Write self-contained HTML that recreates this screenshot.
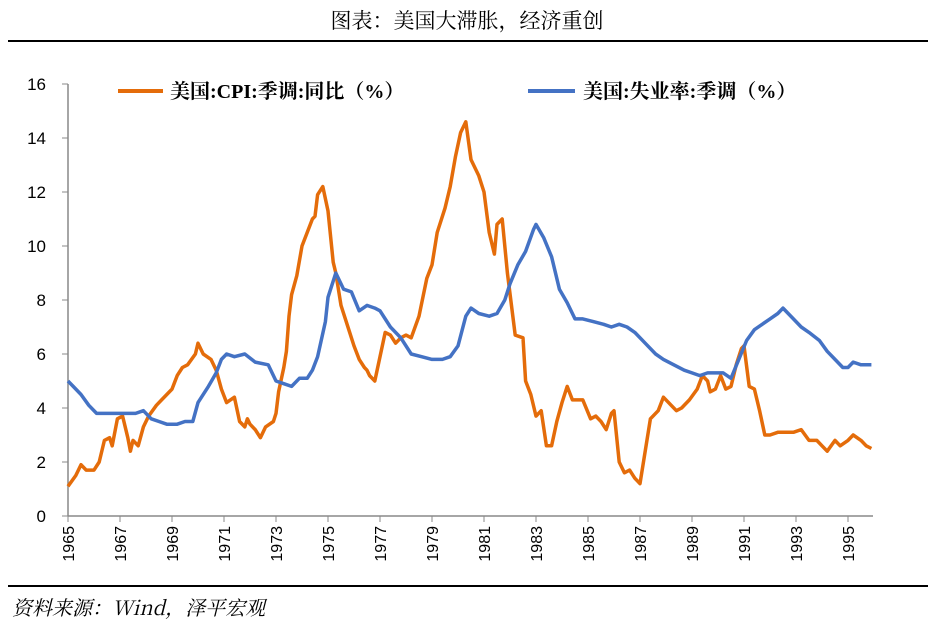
<!DOCTYPE html>
<html><head><meta charset="utf-8"><style>
body{margin:0;background:#fff;}
svg{display:block;font-family:"Liberation Sans","Noto Sans CJK SC",sans-serif;}
</style></head><body>
<svg width="935" height="631">
<text x="467" y="28" text-anchor="middle" font-size="21" font-family="'Noto Serif CJK SC','Noto Sans CJK SC',serif">图表：美国大滞胀，经济重创</text>
<line x1="8" y1="41" x2="928" y2="41" stroke="#000" stroke-width="2"/>
<line x1="8" y1="586" x2="928" y2="586" stroke="#000" stroke-width="2"/>
<text x="12" y="615" font-size="20" font-style="italic" font-family="'Noto Serif CJK SC','Noto Sans CJK SC',serif">资料来源：Wind，泽平宏观</text>
<g id="axes"></g>
<g id="series"></g>
<g>
<line x1="118" y1="91" x2="163" y2="91" stroke="#E46C0A" stroke-width="4"/>
<text x="170" y="98" font-size="20" font-weight="bold" font-family="'Liberation Serif','Noto Serif CJK SC',serif">美国:CPI:季调:同比（%）</text>
<line x1="528" y1="91" x2="575" y2="91" stroke="#4472C4" stroke-width="4"/>
<text x="583" y="98" font-size="20" font-weight="bold" font-family="'Liberation Serif','Noto Serif CJK SC',serif">美国:失业率:季调（%）</text>
</g>
</svg>
<script>
const yTicks=[0,2,4,6,8,10,12,14,16];
const xTicks=[1965,1967,1969,1971,1973,1975,1977,1979,1981,1983,1985,1987,1989,1991,1993,1995];
const cpiYears=[1965.0,1965.3,1965.5,1965.7,1966.0,1966.2,1966.4,1966.6,1966.7,1966.9,1967.1,1967.3,1967.4,1967.5,1967.7,1967.9,1968.1,1968.4,1968.6,1968.8,1969.0,1969.2,1969.4,1969.6,1969.9,1970.0,1970.2,1970.5,1970.7,1970.9,1971.1,1971.4,1971.6,1971.8,1971.9,1972.0,1972.2,1972.4,1972.6,1972.9,1973.0,1973.1,1973.3,1973.4,1973.5,1973.6,1973.8,1974.0,1974.2,1974.4,1974.5,1974.6,1974.8,1975.0,1975.2,1975.3,1975.5,1975.8,1976.0,1976.2,1976.4,1976.5,1976.6,1976.8,1977.0,1977.2,1977.4,1977.6,1977.8,1978.0,1978.2,1978.5,1978.8,1979.0,1979.2,1979.5,1979.7,1979.9,1980.1,1980.3,1980.5,1980.8,1981.0,1981.2,1981.4,1981.5,1981.7,1981.9,1982.2,1982.5,1982.6,1982.8,1983.0,1983.2,1983.4,1983.6,1983.8,1984.0,1984.2,1984.4,1984.8,1985.1,1985.3,1985.5,1985.7,1985.9,1986.0,1986.2,1986.4,1986.6,1986.8,1987.0,1987.2,1987.4,1987.7,1987.9,1988.2,1988.4,1988.6,1988.9,1989.2,1989.4,1989.6,1989.7,1989.9,1990.1,1990.3,1990.5,1990.7,1990.9,1991.0,1991.2,1991.4,1991.6,1991.8,1992.0,1992.3,1992.6,1992.9,1993.2,1993.5,1993.8,1994.0,1994.2,1994.5,1994.7,1995.0,1995.2,1995.5,1995.7,1995.9];
const cpiValues=[1.1,1.5,1.9,1.7,1.7,2.0,2.8,2.9,2.6,3.6,3.7,2.9,2.4,2.8,2.6,3.3,3.7,4.1,4.3,4.5,4.7,5.2,5.5,5.6,6.0,6.4,6.0,5.8,5.4,4.7,4.2,4.4,3.5,3.3,3.6,3.4,3.2,2.9,3.3,3.5,3.8,4.6,5.5,6.1,7.4,8.2,8.9,10.0,10.5,11.0,11.1,11.9,12.2,11.3,9.4,9.0,7.8,6.9,6.3,5.8,5.5,5.4,5.2,5.0,5.9,6.8,6.7,6.4,6.6,6.7,6.6,7.4,8.8,9.3,10.5,11.4,12.2,13.3,14.2,14.6,13.2,12.6,12.0,10.5,9.7,10.8,11.0,9.0,6.7,6.6,5.0,4.5,3.7,3.9,2.6,2.6,3.5,4.2,4.8,4.3,4.3,3.6,3.7,3.5,3.2,3.8,3.9,2.0,1.6,1.7,1.4,1.2,2.4,3.6,3.9,4.4,4.1,3.9,4.0,4.3,4.7,5.2,5.0,4.6,4.7,5.2,4.7,4.8,5.6,6.2,6.3,4.8,4.7,3.9,3.0,3.0,3.1,3.1,3.1,3.2,2.8,2.8,2.6,2.4,2.8,2.6,2.8,3.0,2.8,2.6,2.5];
const unYears=[1965.0,1965.2,1965.5,1965.8,1966.1,1966.5,1966.9,1967.2,1967.6,1967.9,1968.2,1968.5,1968.8,1969.2,1969.5,1969.8,1970.0,1970.4,1970.7,1970.9,1971.1,1971.4,1971.8,1972.2,1972.7,1973.0,1973.3,1973.6,1973.9,1974.2,1974.4,1974.6,1974.9,1975.0,1975.3,1975.6,1975.9,1976.2,1976.5,1976.8,1977.0,1977.4,1977.8,1978.2,1978.6,1979.0,1979.4,1979.7,1980.0,1980.3,1980.5,1980.8,1981.2,1981.5,1981.8,1982.0,1982.3,1982.6,1982.9,1983.0,1983.3,1983.6,1983.9,1984.2,1984.5,1984.8,1985.2,1985.6,1985.9,1986.2,1986.5,1986.8,1987.2,1987.6,1987.9,1988.3,1988.7,1989.0,1989.3,1989.6,1989.9,1990.2,1990.5,1990.8,1991.1,1991.4,1991.7,1992.0,1992.3,1992.5,1992.9,1993.2,1993.5,1993.9,1994.2,1994.5,1994.8,1995.0,1995.2,1995.5,1995.8,1995.9];
const unValues=[5.0,4.8,4.5,4.1,3.8,3.8,3.8,3.8,3.8,3.9,3.6,3.5,3.4,3.4,3.5,3.5,4.2,4.8,5.3,5.8,6.0,5.9,6.0,5.7,5.6,5.0,4.9,4.8,5.1,5.1,5.4,5.9,7.2,8.1,9.0,8.4,8.3,7.6,7.8,7.7,7.6,7.0,6.6,6.0,5.9,5.8,5.8,5.9,6.3,7.4,7.7,7.5,7.4,7.5,8.0,8.6,9.3,9.8,10.6,10.8,10.3,9.6,8.4,7.9,7.3,7.3,7.2,7.1,7.0,7.1,7.0,6.8,6.4,6.0,5.8,5.6,5.4,5.3,5.2,5.3,5.3,5.3,5.1,5.8,6.5,6.9,7.1,7.3,7.5,7.7,7.3,7.0,6.8,6.5,6.1,5.8,5.5,5.5,5.7,5.6,5.6,5.6];
const NS="http://www.w3.org/2000/svg";
const X=y=>68+(y-1965)*26;
const Y=v=>516-v*27;
function mk(tag,attrs,parent){const e=document.createElementNS(NS,tag);for(const k in attrs)e.setAttribute(k,attrs[k]);parent.appendChild(e);return e;}
const ax=document.getElementById('axes');
const ya=mk('line',{x1:68,y1:Y(16),x2:68,y2:516,stroke:'#888','stroke-width':1.5},ax);


const xa=mk('line',{x1:68,y1:516,x2:873,y2:516,stroke:'#888','stroke-width':1.5},ax);


yTicks.forEach(v=>{
 mk('line',{x1:62,y1:Y(v),x2:68,y2:Y(v),stroke:'#888'},ax);
 const t=mk('text',{x:46,y:Y(v)+6,'text-anchor':'end','font-size':17},ax);
 t.textContent=v;
 
 
});
xTicks.forEach(yr=>{
 mk('line',{x1:X(yr),y1:516,x2:X(yr),y2:522,stroke:'#888'},ax);
 const t=mk('text',{transform:`translate(${X(yr)+6},${526}) rotate(-90)`,'text-anchor':'end','font-size':16},ax);
 t.textContent=yr;
 
 
});
const sg=document.getElementById('series');
const p1=mk('polyline',{points:cpiYears.map((y,i)=>X(y)+','+Y(cpiValues[i])).join(' '),fill:'none',stroke:'#E46C0A','stroke-width':3.5,'stroke-linejoin':'round'},sg);


const p2=mk('polyline',{points:unYears.map((y,i)=>X(y)+','+Y(unValues[i])).join(' '),fill:'none',stroke:'#4472C4','stroke-width':3.5,'stroke-linejoin':'round'},sg);


</script>
</body></html>
